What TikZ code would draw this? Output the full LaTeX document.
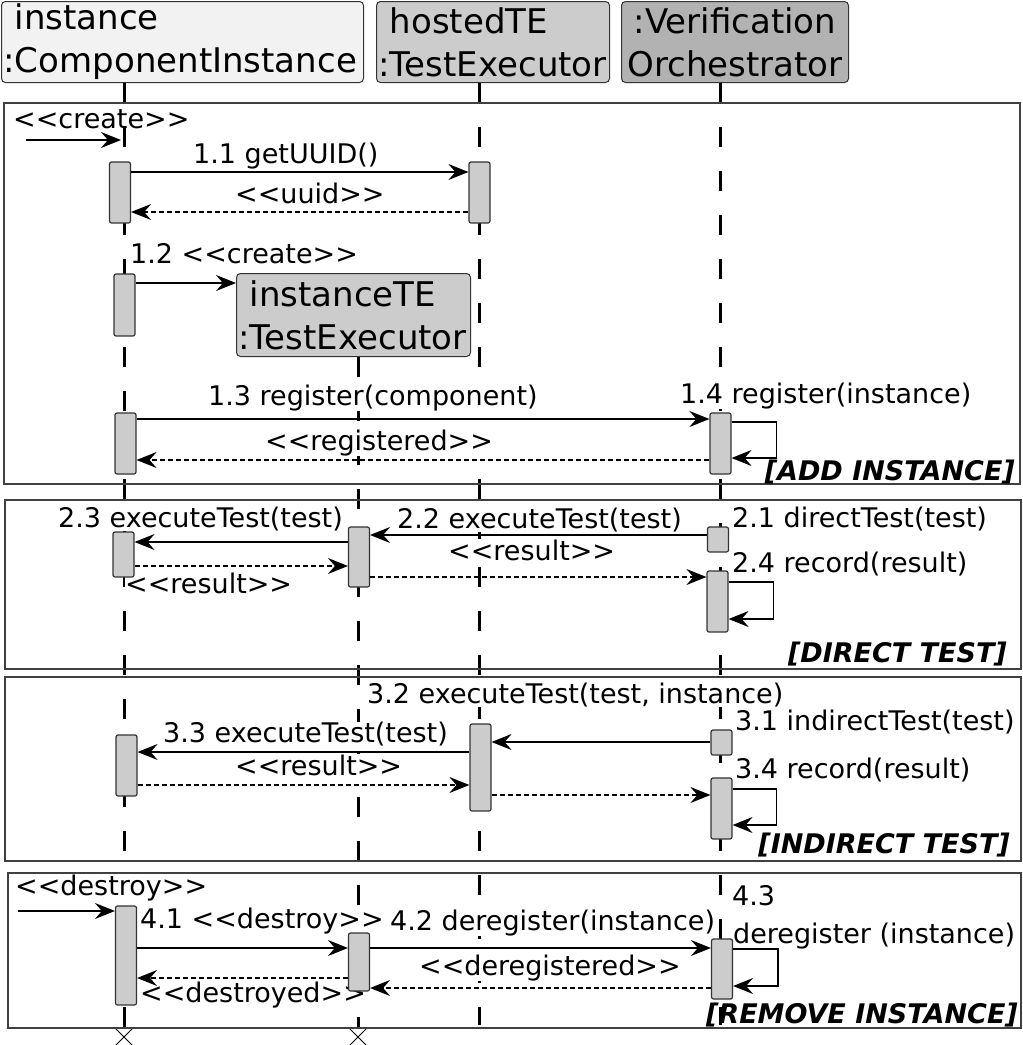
\documentclass[tikz,border=0pt]{standalone}
\usepackage{fontspec}
\setmainfont{DejaVu Sans}[Ligatures=TeXOff]
\usetikzlibrary{arrows.meta,shapes.misc}

\tikzset{
  head/.style={draw=black!80,rounded corners=4pt,line width=1pt,anchor=north west,inner xsep=2pt,inner ysep=0pt,minimum height=81pt,font=\fontsize{34}{43}\selectfont},
  life/.style={line width=3pt,dash pattern=on 20pt off 24pt},
  bar/.style={draw=black!80,fill=black!20,rounded corners=2pt,line width=1.2pt,minimum width=21pt,inner sep=0pt},
  msg/.style={line width=1.3pt,-{Stealth[length=20pt,width=16pt,inset=7pt]}},
  ret/.style={msg,dash pattern=on 5pt off 3pt},
  frm/.style={draw=black!75,line width=1.5pt},
  lbl/.style={anchor=base west,inner sep=0pt,fill=white,font=\fontsize{27}{32}\selectfont},
  grd/.style={anchor=base east,inner sep=0pt,font=\fontsize{27}{32}\selectfont\bfseries\itshape},
  kill/.style={cross out,draw,line width=1pt,minimum size=16pt,inner sep=0pt},
}

\begin{document}
\begin{tikzpicture}[x=1pt,y=-1pt]
        \useasboundingbox (0,0) rectangle (1023,1045);
        %heads;
            \node[head,fill=black!5,text width=358pt,align=left] (inst) at (1,1) {\ instance\\:ComponentInstance};
            \node[head,fill=black!20,text width=229pt,align=left] (hosted) at (376,1) {\ hostedTE\\:TestExecutor};
            \node[head,fill=black!30,text width=223pt,align=center] (orch) at (621,1) {:Verification\\Orchestrator};
        %ends of lifelines;
            \node[kill] (ix) at (124,1037) {};
            \node[kill] (tx) at (358,1037) {};
            \coordinate (hend) at (479,1025);
            \coordinate (oend) at (720,1025);
        %lifelines;
            \draw[life] (inst.south -| ix) -- (ix.north);
            \draw[life] (hosted.south -| hend) -- (hend);
            \draw[life] (orch.south -| oend) -- (oend);
        %created executor;
            \node[head,fill=black!20,text width=230pt,align=left,minimum height=83pt] (te) at (236,273) {\ instanceTE\\:TestExecutor};
            \draw[life] (te.south -| tx) -- (tx.north);
        %frames;
            \draw[frm] (4,103) rectangle (1020,484);
            \draw[frm] (5,500) rectangle (1021,669);
            \draw[frm] (5,677) rectangle (1021,861);
            \draw[frm] (8,873) rectangle (1021,1028);
            \node[grd] (g1) at (1015,480) {[ADD INSTANCE]};
            \node[grd] (g2) at (1007,662) {[DIRECT TEST]};
            \node[grd] (g3) at (1010,853) {[INDIRECT TEST]};
            \node[grd] (g4) at (1018,1023) {[REMOVE INSTANCE]};
        %labels;
            \node[lbl] (l10) at (13,128) {<<create>>};
            \node[lbl] (l11) at (193,163) {1.1 getUUID()};
            \node[lbl] (l11r) at (235,203) {<<uuid>>};
            \node[lbl] (l12) at (130,263) {1.2 <<create>>};
            \node[lbl] (l13) at (208,405) {1.3 register(component)};
            \node[lbl] (l14) at (680,403) {1.4 register(instance)};
            \node[lbl] (l13r) at (265,450) {<<registered>>};
            \node[lbl] (l21) at (732,527) {2.1 directTest(test)};
            \node[lbl] (l22) at (397,528) {2.2 executeTest(test)};
            \node[lbl] (l23) at (58,527) {2.3 executeTest(test)};
            \node[lbl] (l22r) at (448,560) {<<result>>};
            \node[lbl] (l23r) at (125,593) {<<result>>};
            \node[lbl] (l24) at (732,572) {2.4 record(result)};
            \node[lbl] (l32) at (367,703) {3.2 executeTest(test, instance)};
            \node[lbl] (l31) at (735,730) {3.1 indirectTest(test)};
            \node[lbl] (l33) at (163,742) {3.3 executeTest(test)};
            \node[lbl] (l33r) at (235,775) {<<result>>};
            \node[lbl] (l34) at (735,778) {3.4 record(result)};
            \node[lbl] (l40) at (15,895) {<<destroy>>};
            \node[lbl] (l41) at (140,928) {4.1 <<destroy>>};
            \node[lbl] (l42) at (390,930) {4.2 deregister(instance)};
            \node[lbl] (l43) at (732,905) {4.3};
            \node[lbl] (l43b) at (733,943) {deregister (instance)};
            \node[lbl] (l42r) at (419,975) {<<deregistered>>};
            \node[lbl] (l41r) at (140,1002) {<<destroyed>>};
        %activation bars;
            \node[bar,minimum height=61pt] (ib1) at (120,192.5) {};
            \node[bar,minimum height=62pt] (ib2) at (124.5,305) {};
            \node[bar,minimum height=61pt] (ib3) at (125.5,443.5) {};
            \node[bar,minimum height=45pt] (ib4) at (123.5,554.5) {};
            \node[bar,minimum height=61pt] (ib5) at (126.5,765.5) {};
            \node[bar,minimum height=99pt] (ib6) at (126,955.5) {};
            \node[bar,minimum height=61pt] (hb1) at (479.5,192.5) {};
            \node[bar,minimum height=87pt] (hb2) at (480.5,767.5) {};
            \node[bar,minimum height=60pt] (tb1) at (359,557) {};
            \node[bar,minimum height=58pt] (tb2) at (359,962) {};
            \node[bar,minimum height=61pt] (ob1) at (720.5,443.5) {};
            \node[bar,minimum height=25pt] (ob2) at (718,539.5) {};
            \node[bar,minimum height=61pt] (ob3) at (717.5,601.5) {};
            \node[bar,minimum height=25pt] (ob4) at (721.5,742.5) {};
            \node[bar,minimum height=61pt] (ob5) at (721.5,808.5) {};
            \node[bar,minimum height=60pt] (ob6) at (722,969) {};
        %message heights;
            \coordinate (cin) at (26,140);  \coordinate (cout) at (121,140);
            \coordinate (y11) at (0,172);   \coordinate (y11r) at (0,212);
            \coordinate (y12) at (0,283);
            \coordinate (y13) at (0,419);   \coordinate (y13r) at (0,460);
            \coordinate (y14a) at (0,422);  \coordinate (y14b) at (0,458);
            \coordinate (y22) at (0,535);   \coordinate (y23) at (0,542);
            \coordinate (y23r) at (0,566);  \coordinate (y22r) at (0,577);
            \coordinate (y24a) at (0,582);  \coordinate (y24b) at (0,619);
            \coordinate (y32) at (0,742);   \coordinate (y33) at (0,752);
            \coordinate (y33r) at (0,785);  \coordinate (y32r) at (0,795);
            \coordinate (y34a) at (0,789);  \coordinate (y34b) at (0,825);
            \coordinate (din) at (18,911);
            \coordinate (y41) at (0,948);   \coordinate (y41r) at (0,978);
            \coordinate (y42r) at (0,988);
            \coordinate (y43a) at (0,949);  \coordinate (y43b) at (0,986);
        %add instance;
            \draw[msg] (cin) -- (cout);
            \draw[msg] (ib1.east |- y11) -- (hb1.west |- y11);
            \draw[ret] (hb1.west |- y11r) -- (ib1.east |- y11r);
            \draw[msg] (ib2.east |- y12) -- (te.west |- y12);
            \draw[msg] (ib3.east |- y13) -- (ob1.west |- y13);
            \draw[msg] (ob1.east |- y14a) -- ++(45,0) |- (ob1.east |- y14b);
            \draw[ret] (ob1.west |- y13r) -- (ib3.east |- y13r);
        %direct test;
            \draw[msg] (ob2.west |- y22) -- (tb1.east |- y22);
            \draw[msg] (tb1.west |- y23) -- (ib4.east |- y23);
            \draw[ret] (ib4.east |- y23r) -- (tb1.west |- y23r);
            \draw[ret] (tb1.east |- y22r) -- (ob3.west |- y22r);
            \draw[msg] (ob3.east |- y24a) -- ++(45,0) |- (ob3.east |- y24b);
        %indirect test;
            \draw[msg] (ob4.west |- y32) -- (hb2.east |- y32);
            \draw[msg] (hb2.west |- y33) -- (ib5.east |- y33);
            \draw[ret] (ib5.east |- y33r) -- (hb2.west |- y33r);
            \draw[ret] (hb2.east |- y32r) -- (ob5.west |- y32r);
            \draw[msg] (ob5.east |- y34a) -- ++(44,0) |- (ob5.east |- y34b);
        %remove instance;
            \draw[msg] (din) -- (ib6.west |- din);
            \draw[msg] (ib6.east |- y41) -- (tb2.west |- y41);
            \draw[msg] (tb2.east |- y41) -- (ob6.west |- y41);
            \draw[msg] (ob6.east |- y43a) -- ++(45,0) |- (ob6.east |- y43b);
            \draw[ret] (ob6.west |- y42r) -- (tb2.east |- y42r);
            \draw[ret] (tb2.west |- y41r) -- (ib6.east |- y41r);
\end{tikzpicture}
\end{document}
